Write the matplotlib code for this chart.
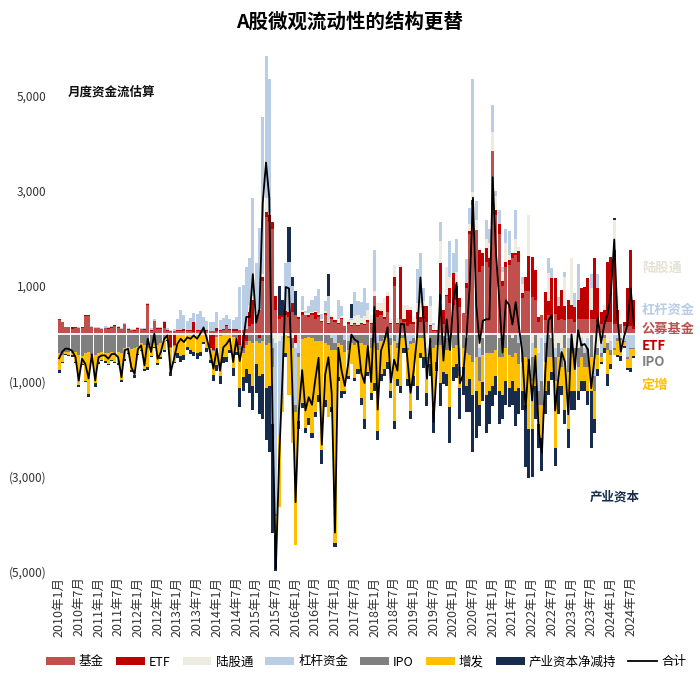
import matplotlib
matplotlib.use('Agg')
import matplotlib.pyplot as plt
import numpy as np
from matplotlib.patches import Patch
from matplotlib.lines import Line2D

plt.rcParams['font.family'] = ['Noto Sans CJK SC', 'DejaVu Sans']

# 月度资金流估算 (亿元), 2010-01 .. 2024-08, one row per year
fund = [
    290, 240, 130, 130, 100, 120, 120, 120, 360, 360, 130, 110,
    110, 100, 110, 100, 120, 150, 120, 90, 200, 80, 70, 60,
    100, 90, 80, 610, 60, 260, 100, 100, 120, 60, 50, 50,
    50, 50, 60, 50, 50, 40, 50, 50, 60, 50, 60, 60,
    60, 60, 80, 150, 80, 60, 60, 70, 80, 100, 150, 200,
    350, 500, 1100, 2450, 2350, 2200, 500, 300, 350, 400, 350, 450,
    400, 300, 400, 380, 350, 400, 300, 350, 250, 400, 200, 300,
    250, 200, 300, 150, 200, 150, 200, 150, 200, 180, 250, 200,
    800, 350, 400, 300, 450, 200, 1000, 200, 300, 250, 150, 200,
    200, 300, 250, 300, 250, 150, 50, 50, 700, 200, 800, 650,
    600, 700, 550, 440, 960, 2100, 2700, 2190, 1300, 1420, 1500, 1400,
    3850, 2500, 2100, 1000, 1400, 1450, 1590, 1650, 1500, 750, 900, 900,
    770, 700, 250, 390, 280, 385, 280, 420, 280, 300, 280, 300,
    300, 250, 300, 300, 300, 300, 300, 300, 250, 200, 250, 250,
    250, 200, 200, 200, 150, 150, 150, 100,
]
etf = [
    20, 0, 10, 10, 30, 10, 0, 10, 20, 20, 10, 10,
    10, 0, 10, 10, 10, 20, 10, 0, 10, 20, 10, 10,
    10, 10, 10, 10, 20, 10, 10, 20, 120, 20, -280, -250,
    30, 20, 30, 20, 30, 200, 20, 20, 30, 20, -300, -350,
    50, 20, 20, 30, 20, 30, 30, -250, -300, -150, 300, 500,
    50, -100, 100, 100, 150, 150, 300, 100, 50, 80, 100, 200,
    -200, 50, 60, 20, 30, 30, 150, 30, 20, 30, 20, 50,
    30, 20, 20, -30, 50, 30, 20, 30, 20, 30, 40, 30,
    0, 150, 70, 50, 330, 20, 200, 20, 1100, 50, 350, 300,
    50, 150, 100, 280, 330, 30, 30, 30, 790, 300, 20, 300,
    680, 300, 200, 0, 100, 50, 120, 0, 450, 280, 300, 200,
    0, 100, 200, 100, 100, 100, 100, 50, 230, 100, 300, 730,
    840, 630, 100, 0, 600, 300, 880, 740, 300, 610, 300, 400,
    300, 300, 400, 650, 680, 860, 200, 1280, 700, 250, 250, 1260,
    1360, 1560, 300, 0, 100, 800, 1610, 600,
]
hk = [
    0, 0, 0, 0, 0, 0, 0, 0, 0, 0, 0, 0,
    0, 0, 0, 0, 0, 0, 0, 0, 0, 0, 0, 0,
    0, 0, 0, 0, 0, 0, 0, 0, 0, 0, 0, 0,
    0, 0, 0, 0, 0, 0, 0, 0, 0, 0, 0, 0,
    0, 0, 0, 0, 0, 0, 0, 0, 0, 0, 150, 100,
    30, 20, 50, 300, 50, -100, -200, -150, -50, 0, -50, -100,
    -100, 20, 40, 30, 50, 20, 30, 60, 40, 50, 30, 40,
    30, 80, 50, 30, 60, 100, 150, 200, 100, 150, 200, 150,
    100, 150, 170, 390, 100, 100, 250, 100, 50, 300, 100, 50,
    100, 200, 300, 100, -300, 400, 100, 0, 450, -50, 580, 250,
    0, 300, -300, 0, -100, 150, 150, 200, -300, -100, 200, 300,
    400, 300, -100, 200, 400, 100, -100, 300, 100, 200, 0, 870,
    -200, 0, -400, -100, 0, 600, -100, -300, -200, -300, 600, -100,
    980, -300, -300, -100, -300, -100, 450, -600, -300, -200, 100, -200,
    -150, 630, 300, -100, -100, 0, 0, 0,
]
margin = [
    0, 0, 5, 5, 5, 5, 10, 10, 10, 15, 20, 20,
    20, 20, 30, 30, 20, 20, 30, 20, 20, 20, 20, 20,
    20, 20, 30, 30, 30, 40, 20, 20, 30, 30, 30, 40,
    220, 420, 290, 190, 250, 200, 350, 410, 260, 200, 180, 190,
    350, 200, 220, 200, 210, 200, 250, 900, 950, 1300, 1000, 2050,
    1050, 1700, 3300, 3000, 2800, -200, -3600, -2000, -1200, 1000, 1050, 350,
    -1200, -400, 300, 50, 150, 250, 300, 500, 100, 200, 550, -100,
    -200, 400, 200, -100, -150, 50, 500, 300, 350, 600, 150, -100,
    860, -200, 0, 0, 0, -100, 0, -200, 0, 0, -300, -150,
    -100, 700, 1050, 280, -200, 210, 50, 0, 410, 0, -100, 750,
    420, 700, -400, 0, 500, 350, 2390, 400, -200, 0, 400, 300,
    570, 100, 300, 100, 300, 500, 0, 610, -200, 150, 0, 0,
    -300, 0, -800, -900, -200, 300, 210, -200, 190, -100, 120, -200,
    -100, 300, 770, -100, -100, -200, 300, -300, 300, -200, 0, 0,
    -200, -300, -100, 0, -50, -500, -300, -300,
]
ipo = [
    -420, -450, -380, -390, -400, -380, -450, -480, -420, -380, -450, -450,
    -420, -380, -400, -420, -380, -400, -380, -420, -300, -280, -330, -300,
    -280, -200, -250, -300, -250, -200, -250, -200, -100, -50, -20, -10,
    0, 0, 0, 0, 0, 0, 0, 0, 0, 0, 0, -20,
    -80, -50, -20, -20, -20, -80, -100, -100, -120, -100, -150, -200,
    -150, -100, -150, -250, -200, -400, -50, 0, 0, 0, -50, -200,
    -150, -100, -120, -100, -80, -100, -150, -150, -150, -200, -250, -250,
    -150, -200, -250, -250, -200, -200, -250, -200, -200, -250, -250, -200,
    -200, -150, -150, -100, -100, -150, -150, -100, -100, -100, -50, -80,
    -100, -100, -100, -100, -150, -200, -300, -250, -250, -200, -250, -350,
    -300, -250, -200, -300, -300, -450, -600, -500, -500, -350, -400, -400,
    -400, -350, -400, -500, -300, -450, -400, -400, -450, -600, -500, -600,
    -500, -300, -300, -500, -400, -500, -400, -500, -300, -300, -300, -500,
    -300, -300, -400, -300, -300, -400, -500, -300, -150, -100, -100, -150,
    -100, -50, -50, -30, -30, -30, -30, -20,
]
seo = [
    -350, -150, -60, -60, -60, -220, -630, -160, -570, -900, -100, -600,
    -180, -170, -180, -220, -170, -190, -250, -560, -240, -130, -440, -580,
    -150, -150, -500, -400, -220, -80, -380, -300, -250, -80, -520, -330,
    -420, -480, -460, -280, -350, -380, -420, -380, -170, -300, -250, -500,
    -580, -850, -480, -470, -320, -650, -280, -800, -500, -500, -700, -900,
    -500, -700, -700, -900, -900, -1200, -400, -1500, -400, -400, -1200, -2000,
    -2800, -1350, -1350, -1880, -1690, -2000, -1500, -1150, -2300, -1200, -1500, -1200,
    -4050, -720, -950, -820, -540, -450, -690, -550, -1150, -1550, -550, -950,
    -850, -1700, -700, -650, -500, -950, -1700, -650, -1000, -200, -600, -1400,
    -700, -1000, -300, -400, -600, -450, -1300, -350, -800, -550, -500, -1200,
    -400, -400, -250, -400, -700, -500, -700, -700, -500, -580, -900, -800,
    -700, -550, -700, -800, -700, -700, -500, -800, -500, -600, -1000, -1400,
    -1000, -800, -400, -700, -600, -500, -300, -1400, -600, -400, -1300, -1200,
    -800, -600, -500, -500, -300, -500, -700, -600, -300, -100, -200, -500,
    -200, -100, -300, -350, -80, -200, -400, -150,
]
ind = [
    -60, -20, -20, -20, -40, -30, -40, -30, -40, -60, -50, -80,
    -40, -30, -30, -30, -30, -30, -30, -50, -40, -30, -40, -60,
    -30, -20, -40, -60, -30, -30, -30, -30, -30, -20, -70, -30,
    -100, -120, -100, -60, -90, -100, -110, -100, -50, -80, -80, -120,
    -120, -160, -110, -110, -80, -160, -70, -400, -300, -300, -400, -500,
    -600, -800, -950, -1100, -1400, -2300, -1500, 600, 300, -100, 750, 200,
    500, -150, -100, -120, -150, -100, -100, -150, -300, -150, 450, -100,
    -100, -80, -150, -80, -60, 300, -60, -100, -150, -200, -100, -150,
    -150, -200, -150, -150, -150, -150, -150, -150, -150, -100, -150, -170,
    -200, -300, -120, -220, -280, -250, -490, -190, -480, -270, -250, -750,
    -300, -280, -650, -600, -550, -700, -1200, -1000, -450, -400, -800, -700,
    -430, -400, -700, -500, -500, -400, -500, -750, -550, -400, -1300, -1050,
    -1020, -700, -500, -700, -500, -300, -180, -380, -600, -200, -300, -400,
    -400, -400, -200, -200, -200, -300, -1200, -300, -150, -50, -100, -250,
    -100, 40, -50, -100, -50, -40, -80, -50,
]

months = [f'{y}年{m}月' for y in range(2010, 2025) for m in range(1, 13)][:len(fund)]

series = [
    ('基金', fund, '#C0504D'),
    ('ETF', etf, '#C00000'),
    ('陆股通', hk, '#EEECE1'),
    ('杠杆资金', margin, '#B9CDE5'),
    ('IPO', ipo, '#808080'),
    ('增发', seo, '#FFC000'),
    ('产业资本净减持', ind, '#172B4D'),
]

fig = plt.figure(figsize=(7, 6.79), dpi=100)
ax = fig.add_axes([0.082, 0.159, 0.826, 0.7695])

x = np.arange(len(months))
pos_base = np.zeros(len(x))
neg_base = np.zeros(len(x))
total = np.zeros(len(x))
for name, vals, color in series:
    v = np.array(vals, dtype=float)
    p = np.where(v > 0, v, 0)
    n = np.where(v < 0, v, 0)
    ax.bar(x, p, bottom=pos_base, width=0.92, color=color, linewidth=0)
    ax.bar(x, n, bottom=neg_base, width=0.92, color=color, linewidth=0)
    pos_base += p
    neg_base += n
    total += v

ax.axhline(0, color='white', lw=1.3, zorder=3)
ax.plot(x, total, color='black', lw=1.3, zorder=4)

ax.set_xlim(-0.5, len(x) - 0.5)
ax.set_ylim(-5000, 6000)
yt = [-5000, -3000, -1000, 1000, 3000, 5000]
ax.set_yticks(yt)
ax.set_yticklabels([f'{v:,}' if v > 0 else f'({-v:,})' for v in yt],
                   fontsize=8.5, color='#333333')
ax.set_xticks(x[::6])
ax.set_xticklabels(months[::6], rotation=90, fontsize=9, color='#333333')
ax.tick_params(axis='both', length=0)
ax.tick_params(axis='y', pad=8)
ax.tick_params(axis='x', pad=4)
for s in ax.spines.values():
    s.set_visible(False)

def px(xp, yp):
    return xp / 700, 1 - yp / 679

fig.text(*px(350, 22), 'A股微观流动性的结构更替', ha='center', va='center',
         fontsize=14, fontweight='bold')
fig.text(*px(68, 92), '月度资金流估算', ha='left', va='center',
         fontsize=9, fontweight='bold', color='#111111')
fig.text(*px(590, 497), '产业资本', ha='left', va='center',
         fontsize=9, fontweight='bold', color='#172B4D')

side = [
    ('陆股通', 268, '#E6E2D3'),
    ('杠杆资金', 310, '#B9CDE5'),
    ('公募基金', 329, '#C0504D'),
    ('ETF', 346, '#C00000'),
    ('IPO', 362, '#808080'),
    ('定增', 385, '#FFC000'),
]
for txt, yp, c in side:
    fig.text(*px(642, yp), txt, ha='left', va='center', fontsize=9.5,
             fontweight='bold', color=c)

handles = [Patch(facecolor=c, edgecolor='none') for _, _, c in series]
handles.append(Line2D([0], [0], color='black', lw=1.3))
labels = [n for n, _, _ in series] + ['合计']
fig.legend(handles, labels, loc='center', bbox_to_anchor=(0.523, 1 - 662 / 679),
           ncol=8, frameon=False, fontsize=9, handlelength=2.3,
           handleheight=0.55, handletextpad=0.35, columnspacing=0.95)

fig.savefig('out.png', dpi=100)
